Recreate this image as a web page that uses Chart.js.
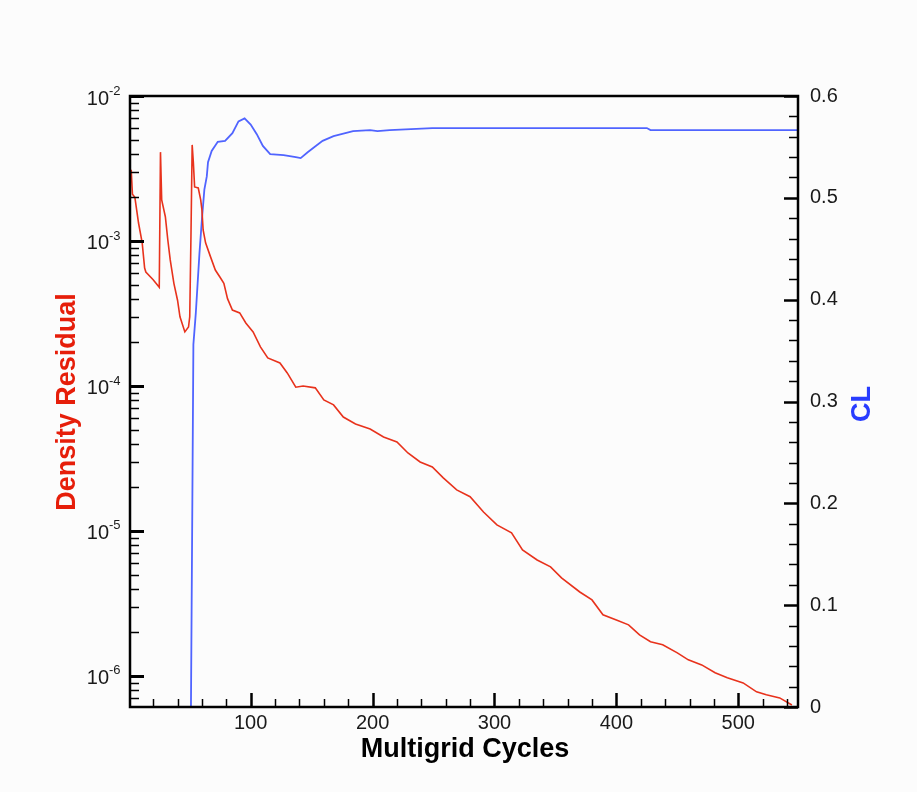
<!DOCTYPE html>
<html><head><meta charset="utf-8">
<script src="https://cdn.jsdelivr.net/npm/chart.js@4.4.1/dist/chart.umd.min.js"></script>
<style>html,body{margin:0;padding:0;background:#fcfcfc;overflow:hidden}#wrap{width:917px;height:792px;position:relative}</style>
</head><body><div id="wrap"><canvas id="c"></canvas></div>
<script>
// Density residual (left, log axis)
const resCycles = [2,3,5,8,11,13,14,20,25,26,27,30,32,34,37,40,42,46,49,50,51,52,53,54,57,59,60,61,63,67,71,75,78,81,85,91,96,102,108,114,124,130,137,143,153,160,168,176,186,198,209,220,229,239,249,258,269,280,291,302,314,323,335,346,355,370,380,389,400,410,419,428,438,450,459,470,481,491,504,515,523,534,544];
const resValues = [3.1e-3,2.1e-3,2.0e-3,1.33e-3,9.7e-4,6.5e-4,6.1e-4,5.4e-4,4.8e-4,4.1e-3,1.92e-3,1.47e-3,1.02e-3,7.4e-4,5.1e-4,3.9e-4,3.0e-4,2.36e-4,2.55e-4,3.0e-4,1.07e-3,4.6e-3,3.45e-3,2.36e-3,2.32e-3,1.92e-3,1.64e-3,1.19e-3,9.7e-4,7.8e-4,6.3e-4,5.6e-4,5.1e-4,4.0e-4,3.34e-4,3.19e-4,2.72e-4,2.36e-4,1.86e-4,1.56e-4,1.44e-4,1.23e-4,9.8e-5,1.0e-4,9.7e-5,8.0e-5,7.4e-5,6.1e-5,5.47e-5,5.05e-5,4.45e-5,4.11e-5,3.45e-5,2.99e-5,2.76e-5,2.32e-5,1.92e-5,1.72e-5,1.35e-5,1.10e-5,9.7e-6,7.4e-6,6.3e-6,5.65e-6,4.74e-6,3.79e-6,3.34e-6,2.64e-6,2.43e-6,2.25e-6,1.92e-6,1.72e-6,1.64e-6,1.44e-6,1.29e-6,1.19e-6,1.05e-6,9.7e-7,8.95e-7,7.76e-7,7.4e-7,7.05e-7,6.3e-7];
// Lift coefficient (right, linear axis)
const clCycles = [51,52,53,55,58,60,62,64,65,68,73,79,85,90,95,100,105,110,116,127,137,141,147,159,168,184,198,204,214,249,425,428,549];
const clValues = [0,0.175,0.356,0.387,0.446,0.479,0.508,0.521,0.535,0.546,0.555,0.556,0.5635,0.575,0.578,0.572,0.5625,0.551,0.543,0.542,0.540,0.539,0.545,0.556,0.5605,0.5655,0.5665,0.5655,0.5665,0.5685,0.5685,0.5665,0.5665];
// Tick labels
const xTickValues = [100,200,300,400,500];
const xTickLabels = ['100','200','300','400','500'];
const resTickExponents = [-2,-3,-4,-5,-6];
const clTickValues = [0,0.1,0.2,0.3,0.4,0.5,0.6];
const clTickLabels = ['0','0.1','0.2','0.3','0.4','0.5','0.6'];
const xTitle = 'Multigrid Cycles';
const resTitle = 'Density Residual';
const clTitle = 'CL';

const FONT = '"Liberation Sans", Arial, Helvetica, sans-serif';
const RED = 'rgb(232,50,28)';
const BLUE = 'rgb(80,100,255)';

const axesPlugin = {
  id: 'axesPlugin',
  beforeDraw(chart) {
    const ctx = chart.ctx;
    ctx.save();
    ctx.fillStyle = '#fcfcfc';
    ctx.fillRect(0, 0, chart.width, chart.height);
    ctx.restore();
  },
  afterDraw(chart) {
    const ctx = chart.ctx, a = chart.chartArea;
    const X = chart.scales.x, Y = chart.scales.y, Y1 = chart.scales.y1;
    ctx.save();
    ctx.strokeStyle = '#000';
    ctx.lineCap = 'butt';
    const line = (x1, y1, x2, y2, w) => { ctx.lineWidth = w; ctx.beginPath(); ctx.moveTo(x1, y1); ctx.lineTo(x2, y2); ctx.stroke(); };
    // bottom ticks (inward)
    for (let v = 20; v < X.max; v += 20) {
      const px = Math.round(X.getPixelForValue(v)) + 0.5;
      const major = v % 100 === 0;
      line(px, a.bottom, px, a.bottom - (major ? 14 : 8), major ? 2.5 : 1.5);
    }
    // left log ticks
    for (let k = -7; k <= -2; k++) {
      for (let m = 1; m <= 9; m++) {
        const v = m * Math.pow(10, k);
        if (v < Y.min * 0.999 || v > Y.max * 1.001) continue;
        const py = Math.round(Y.getPixelForValue(v)) + 0.5;
        line(a.left, py, a.left + (m === 1 ? 14 : 9), py, m === 1 ? 3 : 1.5);
      }
    }
    // right ticks
    for (let i = 0; i <= 30; i++) {
      const v = i * 0.02;
      const py = Math.round(Y1.getPixelForValue(v)) + 0.5;
      const major = i % 5 === 0;
      line(a.right, py, a.right - (major ? 14 : 9), py, major ? 2.5 : 1.5);
    }
    // frame
    ctx.lineWidth = 2.5;
    ctx.strokeRect(a.left, a.top, a.right - a.left, a.bottom - a.top);

    // tick labels
    ctx.fillStyle = '#1a1a1a';
    ctx.font = '20px ' + FONT;
    ctx.textAlign = 'center';
    ctx.textBaseline = 'middle';
    xTickValues.forEach((v, i) => {
      ctx.fillText(xTickLabels[i], X.getPixelForValue(v), a.bottom + 16);
    });
    ctx.textAlign = 'left';
    clTickValues.forEach((v, i) => {
      ctx.fillText(clTickLabels[i], a.right + 12, Y1.getPixelForValue(v));
    });
    resTickExponents.forEach(e => {
      const py = Y.getPixelForValue(Math.pow(10, e));
      ctx.font = '20px ' + FONT;
      ctx.textAlign = 'right';
      ctx.fillText('10', a.left - 21, py + 3);
      ctx.font = '13px ' + FONT;
      ctx.textAlign = 'left';
      ctx.fillText(String(e), a.left - 21, py - 5);
    });

    // titles
    ctx.font = 'bold 27px ' + FONT;
    ctx.textAlign = 'center';
    ctx.textBaseline = 'middle';
    ctx.fillStyle = '#000';
    ctx.fillText(xTitle, (a.left + a.right) / 2 + 1, 750);
    ctx.save();
    ctx.translate(68, 402);
    ctx.rotate(-Math.PI / 2);
    ctx.fillStyle = 'rgb(230,30,10)';
    ctx.fillText(resTitle, 0, 0);
    ctx.restore();
    ctx.save();
    ctx.translate(863, 404);
    ctx.rotate(-Math.PI / 2);
    ctx.fillStyle = 'rgb(40,60,255)';
    ctx.fillText(clTitle, 0, 0);
    ctx.restore();
    ctx.restore();
  }
};

const resData = resCycles.map((c, i) => ({ x: c, y: resValues[i] }));
const clData = clCycles.map((c, i) => ({ x: c, y: clValues[i] }));

new Chart(document.getElementById('c'), {
  type: 'line',
  data: {
    datasets: [
      { label: resTitle, data: resData, yAxisID: 'y', borderColor: RED, borderWidth: 1.6, pointRadius: 0, tension: 0, fill: false },
      { label: clTitle, data: clData, yAxisID: 'y1', borderColor: BLUE, borderWidth: 1.8, pointRadius: 0, tension: 0, fill: false }
    ]
  },
  options: {
    responsive: true,
    maintainAspectRatio: false,
    animation: false,
    devicePixelRatio: 1,
    layout: { padding: { top: 96, left: 0, right: 0, bottom: 0 } },
    plugins: { legend: { display: false }, tooltip: { enabled: false } },
    scales: {
      x: { type: 'linear', min: 1, max: 549, ticks: { display: false }, grid: { display: false }, border: { display: false },
           afterFit(s) { s.height = 85; } },
      y: { type: 'logarithmic', position: 'left', min: 6.1e-7, max: 1e-2, ticks: { display: false }, grid: { display: false }, border: { display: false },
           afterFit(s) { s.width = 130; } },
      y1: { type: 'linear', position: 'right', min: 0, max: 0.6, ticks: { display: false }, grid: { display: false }, border: { display: false },
           afterFit(s) { s.width = 119; } }
    }
  },
  plugins: [axesPlugin]
});
</script>
</body></html>
